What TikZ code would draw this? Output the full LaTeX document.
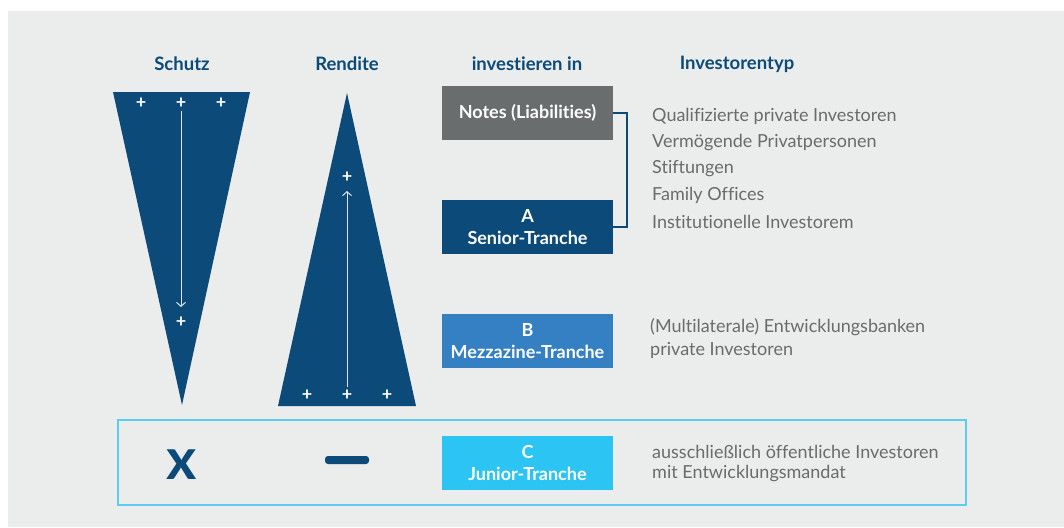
\documentclass[tikz,border=0pt]{standalone}
\usepackage{fontspec}
\setmainfont{Lato}[Ligatures={NoCommon}]
\usepackage{xcolor}
\usetikzlibrary{arrows.meta,positioning,calc}

\definecolor{navy}{RGB}{11,74,121}
\definecolor{boxgray}{RGB}{106,109,110}
\definecolor{midblue}{RGB}{53,128,195}
\definecolor{cyanbox}{RGB}{43,196,243}
\definecolor{framecol}{RGB}{92,205,240}
\definecolor{bggray}{RGB}{235,236,236}
\definecolor{txtgray}{RGB}{107,107,107}
\definecolor{arrline}{RGB}{224,228,232}

\begin{document}
\begin{tikzpicture}[
    x=1pt, y=-1pt,
    head/.style={font=\fontsize{18.5}{22}\selectfont\bfseries, text=navy, inner sep=0pt},
    tranche/.style={
        rectangle, fill=#1, minimum width=171pt, minimum height=54pt,
        inner sep=0pt, align=center, text=white,
        font=\fontsize{18}{22}\selectfont\bfseries
    },
    inv/.style={anchor=west, inner sep=0pt, text=txtgray, font=\fontsize{18}{22}\selectfont},
    plus/.style={text=white, inner sep=0pt, font=\fontsize{18}{18}\selectfont\bfseries},
    arr/.style={-{Straight Barb[length=4pt,width=9pt]}, line width=1pt, draw=arrline},
]
% Background
\fill[white] (0,0) rectangle (1064,527);
\fill[bggray] (8,11) rectangle (1064,527);
\useasboundingbox (0,0) rectangle (1064,527);

% Headers
\node[head] (schutz) at (182,64) {Schutz};
\node[head] (rendite) at (347,64) {Rendite};
\node[head] (invest) at (527,64) {investieren in};
\node[head] (typ) at (737,64) {Investorentyp};

% Schutz triangle
\fill[navy] (113,92) -- (250,92) -- (182,405) -- cycle;
\foreach \x [count=\i] in {141,181,221}
    \node[plus] (sp\i) at (\x,103) {+};
\node[plus] (sbot) at (181,322) {+};
\draw[arr, shorten <=8pt, shorten >=15pt] (sp2.center) -- (sbot.center);

% Rendite triangle
\fill[navy] (278,406) -- (416,406) -- (347,93) -- cycle;
\foreach \x [count=\i] in {307,347,387}
    \node[plus] (rp\i) at (\x,395) {+};
\node[plus] (rtop) at (347,177) {+};
\draw[arr, shorten <=8pt, shorten >=14pt] (rp2.center) -- (rtop.center);

% Tranches
\node[tranche=boxgray] (notes) at (527.5,113) {Notes (Liabilities)};
\node[tranche=navy, below=60pt of notes] (senior) {A\\Senior-Tranche};
\node[tranche=midblue, below=59pt of senior] (mezz) {B\\Mezzazine-Tranche};
\node[tranche=cyanbox, below=68pt of mezz] (junior) {C\\Junior-Tranche};

% Bracket Notes / Senior
\draw[navy, line width=2pt] (notes.east) -- ++(14,0) |- (senior.east);

% Investor types
\foreach \t [count=\i] in {Qualifizierte private Investoren, Vermögende Privatpersonen,
    Stiftungen, Family Offices, Institutionelle Investorem}
    \node[inv] (q\i) at (652,{116+26.5*(\i-1)}) {\t};
\node[inv] (b1) at (650,327) {(Multilaterale) Entwicklungsbanken};
\node[inv] (b2) at (650,350) {private Investoren};
\node[inv] (c1) at (652,452) {ausschließlich öffentliche Investoren};
\node[inv] (c2) at (652,474) {mit Entwicklungsmandat};

% Junior frame
\draw[framecol, line width=1.5pt] (118,420) rectangle (966,505);
\node[text=navy, inner sep=0pt, font=\fontsize{58}{58}\selectfont\bfseries] (kreuz) at (182,465) {x};
\node[fill=navy, minimum width=44pt, minimum height=8pt, rounded corners=3pt, inner sep=0pt] (strich) at (347,460) {};
\end{tikzpicture}
\end{document}
